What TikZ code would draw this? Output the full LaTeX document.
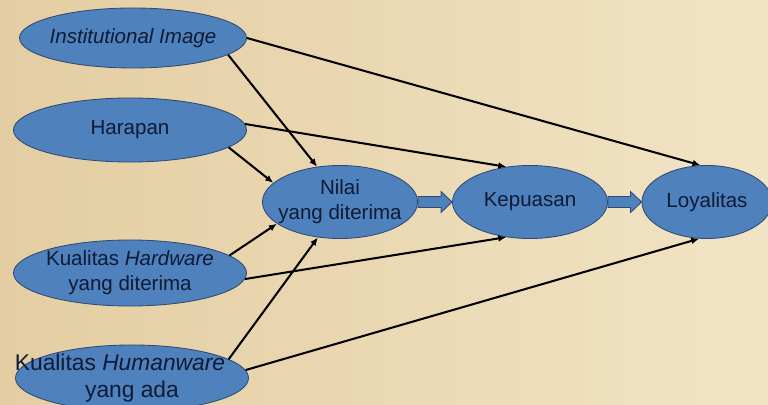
\documentclass[tikz,border=0pt]{standalone}
\usepackage{fontspec}
\setmainfont{Liberation Sans}
\usepackage{tikz}
\usetikzlibrary{positioning,arrows.meta,shapes.geometric,calc}
\usepackage{xcolor}
\definecolor{ovalblue}{HTML}{4F81BD}
\definecolor{ovalline}{HTML}{2E4A73}
\definecolor{inktext}{HTML}{0E1B36}
\definecolor{paperdark}{HTML}{E4CDA2}
\definecolor{papermid}{HTML}{EEDDB8}
\definecolor{paperlight}{HTML}{F1E4C5}

\begin{document}
\begin{tikzpicture}[
    x=0.025cm, y=-0.025cm,
    every node/.style={font=\fontsize{14.6}{18}\selectfont, text=inktext},
    oval/.style={ellipse, draw=ovalline, line width=0.6pt, fill=ovalblue, inner sep=0pt},
    ovaltext/.style={align=center, inner sep=0pt},
    blockarrow/.style={draw=ovalline, line width=0.6pt, fill=ovalblue, line join=miter},
    edge/.style={-{Latex[length=2mm,width=1.7mm]}, line width=1.45pt, black}
]

    % Latar kertas
    \useasboundingbox (0,0) rectangle (768,405);
    \shade[left color=paperdark, middle color=papermid, right color=paperlight] (0,0) rectangle (768,405);

    % Variabel bebas (kiri)
    \node[oval, minimum width=5.675cm, minimum height=1.5cm,
        label={[ovaltext]center:\itshape Institutional Image}] (img) at (133,38) {};
    \node[oval, minimum width=5.825cm, minimum height=1.6cm,
        label={[ovaltext]center:Harapan}] (harapan) at (130,130) {};
    \node[oval, minimum width=5.825cm, minimum height=1.65cm,
        label={[ovaltext]center:Kualitas \textit{Hardware}\\yang diterima}] (hardware) at (130,273) {};
    \node[oval, minimum width=5.825cm, minimum height=1.65cm,
        label={[ovaltext, font=\fontsize{16.2}{19}\selectfont]center:Kualitas \textit{Humanware}\hspace*{0.6cm}\\yang ada}] (humanware) at (132,378) {};

    % Variabel tengah dan kanan
    \node[oval, minimum width=3.875cm, minimum height=1.825cm,
        label={[ovaltext]center:Nilai\\yang diterima}] (nilai) at (340,202) {};
    \node[oval, minimum width=3.875cm, minimum height=1.825cm,
        label={[ovaltext]center:Kepuasan}] (kepuasan) at (530,202) {};
    \node[oval, minimum width=3.25cm, minimum height=1.825cm,
        label={[ovaltext]center:Loyalitas}] (loyalitas) at (707,202) {};

    % Panah blok
    \foreach \a/\b in {nilai/kepuasan, kepuasan/loyalitas}
        \filldraw[blockarrow] ($(\a.east)+(0,-5.5)$) -- ($(\b.west)+(-11,-5.5)$) -- ($(\b.west)+(-11,-10.5)$)
            -- (\b.west) -- ($(\b.west)+(-11,10.5)$) -- ($(\b.west)+(-11,5.5)$) -- ($(\a.east)+(0,5.5)$) -- cycle;

    % Hubungan ke Nilai
    \draw[edge] (img.-10) -- (nilai.123);
    \draw[edge] (harapan.-10) -- (nilai.164);
    \draw[edge] (hardware.10) -- (nilai.199);
    \draw[edge] (humanware.11) -- (nilai.238);

    % Hubungan ke Kepuasan
    \draw[edge] (harapan.3) -- (kepuasan.124);
    \draw[edge] (hardware.-3) -- (kepuasan.236);

    % Hubungan ke Loyalitas
    \draw[edge] (img.east) -- (loyalitas.100);
    \draw[edge] (humanware.4) -- (loyalitas.258);

\end{tikzpicture}
\end{document}
